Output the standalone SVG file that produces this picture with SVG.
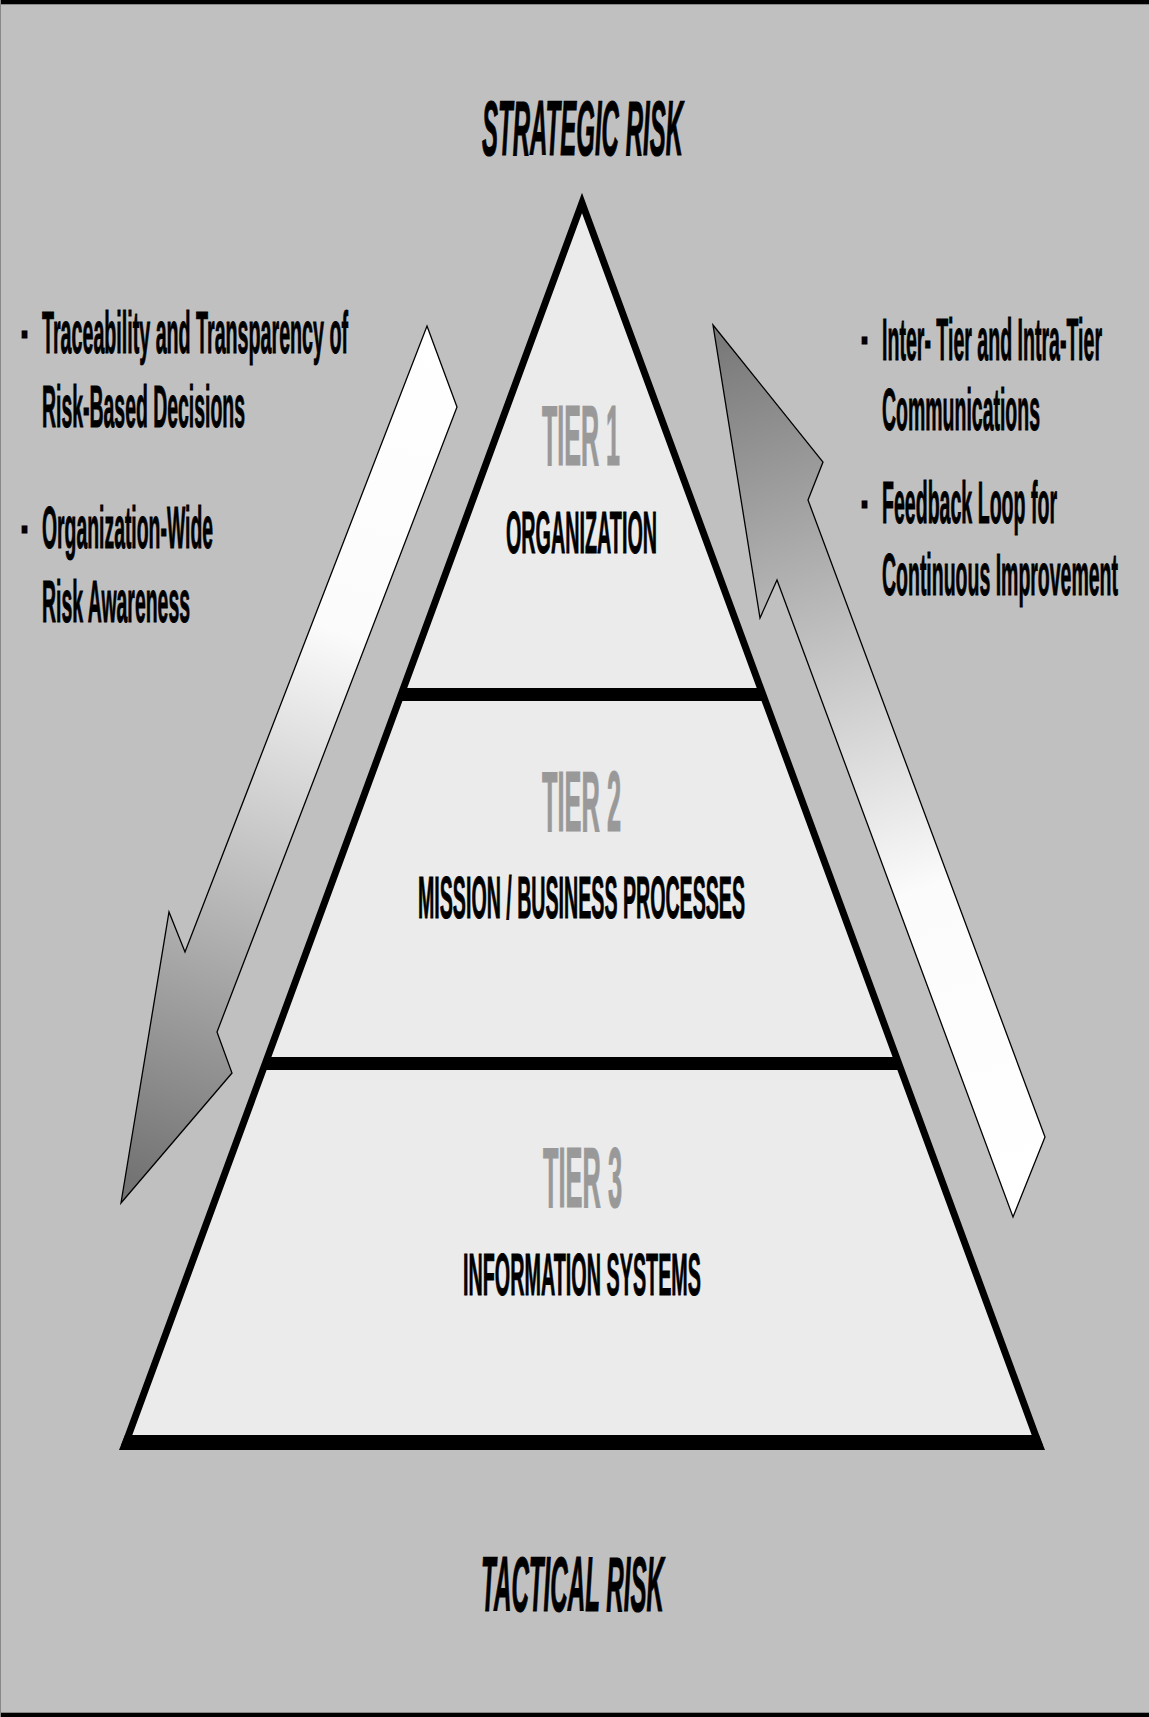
<svg xmlns="http://www.w3.org/2000/svg" width="1149" height="1717" viewBox="0 0 1149 1717">
<defs>
<style>
text{font-family:"Liberation Sans",Arial,sans-serif;font-weight:bold;}
.big{font-style:italic;font-size:77px;fill:#000;stroke:#000;stroke-width:1.2;}
.tier{font-size:85px;fill:#999999;stroke:#999999;stroke-width:1.2;}
.lbl{font-size:60px;fill:#000;stroke:#000;stroke-width:1;}
.side{font-size:60px;fill:#000;stroke:#000;stroke-width:1;}
.arrow{stroke:#000;stroke-width:1.3;stroke-linejoin:miter;}
</style>
<linearGradient id="gDown" gradientUnits="userSpaceOnUse" x1="430" y1="330" x2="140" y2="1180">
<stop offset="0" stop-color="#ffffff"/>
<stop offset="0.35" stop-color="#fbfbfb"/>
<stop offset="1" stop-color="#747474"/>
</linearGradient>
<linearGradient id="gUp" gradientUnits="userSpaceOnUse" x1="730" y1="340" x2="1010" y2="1190">
<stop offset="0" stop-color="#7a7a7a"/>
<stop offset="0.65" stop-color="#fbfbfb"/>
<stop offset="1" stop-color="#ffffff"/>
</linearGradient>
</defs>
<rect x="0" y="0" width="1149" height="1717" fill="#c0c0c0"/>
<rect x="0" y="0" width="1149" height="4" fill="#000"/>
<rect x="0" y="4" width="1149" height="1" fill="#888"/>
<rect x="0" y="1713" width="1149" height="4" fill="#000"/>
<rect x="0" y="1712" width="1149" height="1" fill="#888"/>
<rect x="0" y="0" width="1" height="1717" fill="#888"/>

<g id="pyramid">
<polygon points="582,203 126,1442 1038,1442" fill="#ebebeb" stroke="#000" stroke-width="7" stroke-linejoin="miter"/>
<polygon points="125,1435 119,1450 1045,1450 1039,1435" fill="#000"/>
</g>
<g id="tier1">
<polygon points="405,688 400,701 765,701 760,688" fill="#000"/>
<text class="tier" x="542" y="465" textLength="78" lengthAdjust="spacingAndGlyphs">TIER 1</text>
<text class="lbl" x="506" y="553" textLength="151" lengthAdjust="spacingAndGlyphs">ORGANIZATION</text>
</g>
<g id="tier2">
<polygon points="268,1057 263,1070 901,1070 896,1057" fill="#000"/>
<text class="tier" x="542" y="831" textLength="79" lengthAdjust="spacingAndGlyphs">TIER 2</text>
<text class="lbl" x="418" y="918" textLength="327" lengthAdjust="spacingAndGlyphs">MISSION / BUSINESS PROCESSES</text>
</g>
<g id="tier3">
<text class="tier" x="543" y="1207" textLength="79" lengthAdjust="spacingAndGlyphs">TIER 3</text>
<text class="lbl" x="463" y="1295" textLength="238" lengthAdjust="spacingAndGlyphs">INFORMATION SYSTEMS</text>
</g>

<g id="strategic">
<text class="big" x="482" y="155" textLength="201" lengthAdjust="spacingAndGlyphs">STRATEGIC RISK</text>
</g>
<g id="tactical">
<text class="big" x="481" y="1611" textLength="183" lengthAdjust="spacingAndGlyphs">TACTICAL RISK</text>
</g>

<g id="connectors">
<polygon class="arrow" fill="url(#gDown)" points="427,326 457,407 217,1032 232,1073 121,1203 169,912 185,952"/>
<polygon class="arrow" fill="url(#gUp)" points="713,325 823,462 808,500 1045,1137 1013,1217 777,580 760,618"/>
</g>

<g id="left-notes">
<text class="side" x="21" y="350" textLength="7" lengthAdjust="spacingAndGlyphs">-</text>
<text class="side" x="42" y="353" textLength="306" lengthAdjust="spacingAndGlyphs">Traceability and Transparency of</text>
<text class="side" x="42" y="427" textLength="203" lengthAdjust="spacingAndGlyphs">Risk-Based Decisions</text>
<text class="side" x="21" y="545" textLength="7" lengthAdjust="spacingAndGlyphs">-</text>
<text class="side" x="42" y="548" textLength="171" lengthAdjust="spacingAndGlyphs">Organization-Wide</text>
<text class="side" x="42" y="622" textLength="148" lengthAdjust="spacingAndGlyphs">Risk Awareness</text>
</g>
<g id="right-notes">
<text class="side" x="861" y="356" textLength="7" lengthAdjust="spacingAndGlyphs">-</text>
<text class="side" x="882" y="360" textLength="220" lengthAdjust="spacingAndGlyphs">Inter- Tier and Intra-Tier</text>
<text class="side" x="882" y="430" textLength="158" lengthAdjust="spacingAndGlyphs">Communications</text>
<text class="side" x="861" y="520" textLength="7" lengthAdjust="spacingAndGlyphs">-</text>
<text class="side" x="882" y="523" textLength="175" lengthAdjust="spacingAndGlyphs">Feedback Loop for</text>
<text class="side" x="882" y="595" textLength="236" lengthAdjust="spacingAndGlyphs">Continuous Improvement</text>
</g>
</svg>
